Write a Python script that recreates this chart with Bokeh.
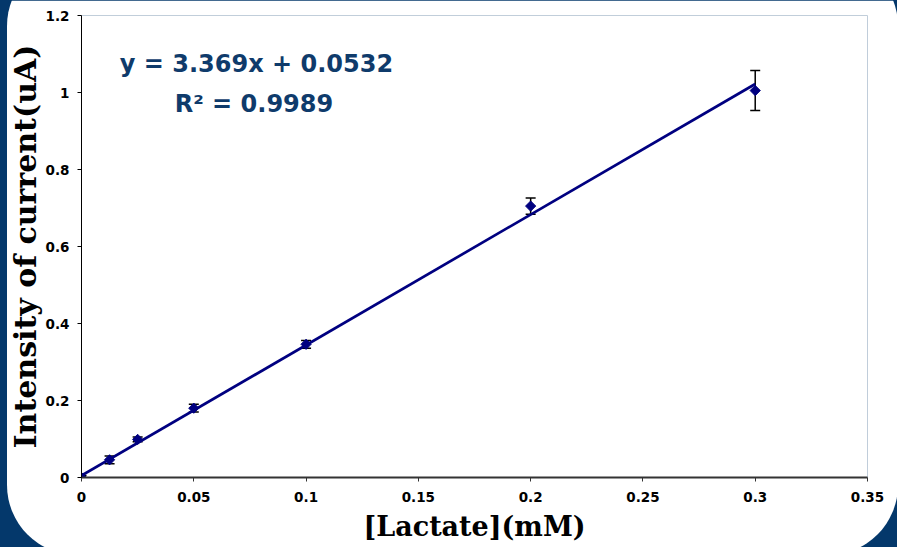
from bokeh.plotting import figure
from bokeh.models import Range1d, FixedTicker, Whisker, TeeHead, ColumnDataSource, Label
from bokeh.layouts import column
from bokeh.embed import file_html
from bokeh.resources import INLINE

# ---- data ----
conc = [0.0, 0.0125, 0.025, 0.05, 0.1, 0.2, 0.3]
current = [0.0, 0.046, 0.099, 0.180, 0.346, 0.705, 1.005]
err = [0.005, 0.010, 0.006, 0.010, 0.010, 0.021, 0.052]
trend_x = [0.0, 0.3]
trend_y = [0.005, 1.022]
x_ticks = [0, 0.05, 0.1, 0.15, 0.2, 0.25, 0.3, 0.35]
x_tick_labels = ["0", "0.05", "0.1", "0.15", "0.2", "0.25", "0.3", "0.35"]
y_ticks = [0, 0.2, 0.4, 0.6, 0.8, 1.0, 1.2]
y_tick_labels = ["0", "0.2", "0.4", "0.6", "0.8", "1", "1.2"]
eq_text = "y = 3.369x + 0.0532"
r2_text = "R\u00b2 = 0.9989"
x_title = "[Lactate](mM)"
y_title = "Intensity of current(uA)"

NAVY = "#000080"
EQ_BLUE = "#0f3b6b"
BG_BLUE = "#04386b"

p = figure(width=897, height=547, x_range=Range1d(0, 0.35), y_range=Range1d(0, 1.2),
           output_backend="svg", toolbar_location=None,
           min_border_left=81, min_border_right=30, min_border_top=15, min_border_bottom=70)
p.outline_line_color = None
p.grid.visible = False
p.background_fill_color = "white"
p.border_fill_color = "white"
p.styles = {"clip-path": "inset(-44px -1px -8px 7px round 70px)"}

# axes
p.xaxis.ticker = FixedTicker(ticks=x_ticks)
p.yaxis.ticker = FixedTicker(ticks=y_ticks)
p.xaxis.major_label_overrides = dict(zip(x_ticks, x_tick_labels))
p.yaxis.major_label_overrides = dict(zip(y_ticks, y_tick_labels))
for ax in (p.xaxis, p.yaxis):
    ax.minor_tick_line_color = None
    ax.major_tick_in = 0
    ax.major_tick_out = 4
    ax.major_label_text_font = "DejaVu Sans"
    ax.major_label_text_font_style = "bold"
    ax.major_label_text_font_size = "13.5px"
    ax.major_label_text_color = "black"
    ax.axis_label_text_font = "DejaVu Serif"
    ax.axis_label_text_font_style = "bold"
    ax.axis_label_text_color = "black"
p.xaxis.axis_line_color = "#333333"
p.xaxis.axis_line_width = 2
p.xaxis.major_tick_line_color = "#333333"
p.yaxis.axis_line_color = "black"
p.yaxis.axis_line_width = 1
p.yaxis.major_tick_line_color = "black"
p.xaxis.major_label_standoff = 10
p.yaxis.major_label_standoff = 8
p.xaxis.axis_label = x_title
p.yaxis.axis_label = y_title
p.xaxis.axis_label_text_font_size = "27px"
p.yaxis.axis_label_text_font_size = "30px"
p.xaxis.axis_label_standoff = 6
p.yaxis.axis_label_standoff = 0

# error bars
src = ColumnDataSource(dict(
    x=conc, y=current,
    upper=[c + e for c, e in zip(current, err)],
    lower=[c - e for c, e in zip(current, err)],
))
p.add_layout(Whisker(source=src, base="x", upper="upper", lower="lower", dimension="height",
                     line_color="black", line_width=1.5,
                     upper_head=TeeHead(size=10, line_color="black", line_width=1.5),
                     lower_head=TeeHead(size=10, line_color="black", line_width=1.5)))

# points
p.scatter("x", "y", source=src, marker="square", angle=0.785, size=7.2,
          fill_color=NAVY, line_color=NAVY)

# trend line
p.line(trend_x, trend_y, line_color=NAVY, line_width=2.7)

# equation
p.add_layout(Label(x=0.0779, y=1.0753, text=eq_text, text_align="center",
                   text_baseline="alphabetic", text_font="DejaVu Sans", text_font_style="bold",
                   text_font_size="24px", text_color=EQ_BLUE))
p.add_layout(Label(x=0.0768, y=0.9714, text=r2_text, text_align="center",
                   text_baseline="alphabetic", text_font="DejaVu Sans", text_font_style="bold",
                   text_font_size="24px", text_color=EQ_BLUE))

layout = column(p, styles={"background-color": BG_BLUE})
open("out.html", "w").write(file_html(layout, INLINE))
